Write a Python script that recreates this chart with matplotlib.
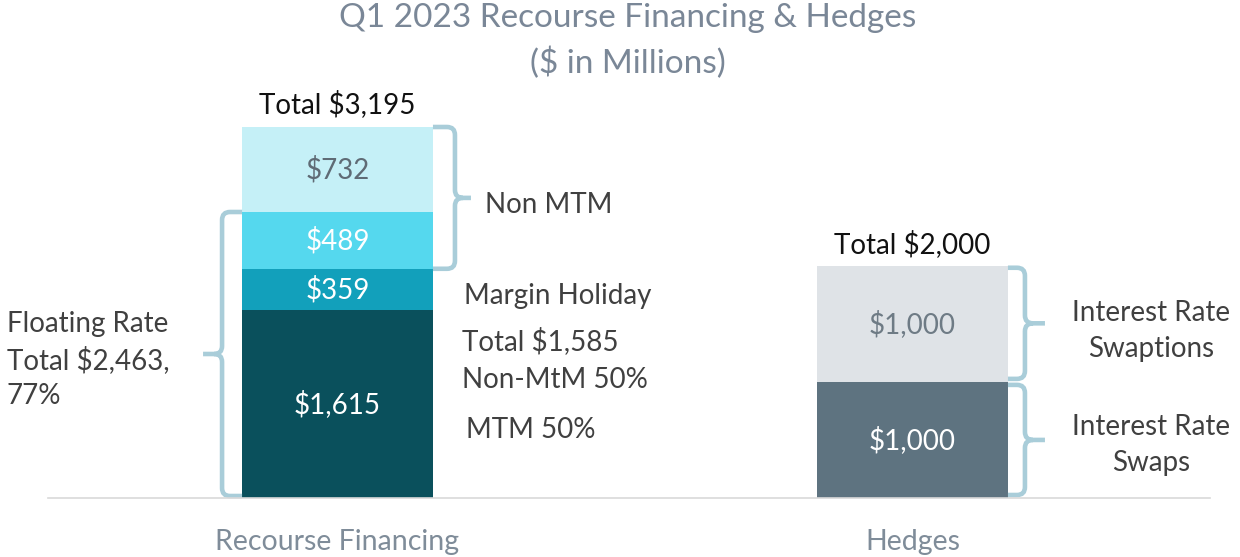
import matplotlib.pyplot as plt
from matplotlib.path import Path
from matplotlib.patches import PathPatch

# data
categories = ["Recourse Financing", "Hedges"]
recourse = [1615, 359, 489, 732]
recourse_colors = ["#0a505c", "#12a0bb", "#55d8ee", "#c5f0f7"]
recourse_text = ["white", "white", "white", "#5f6b75"]
hedges = [1000, 1000]
hedge_colors = ["#5e7380", "#dfe3e7"]
hedge_text = ["white", "#6e7b85"]

plt.rcParams["font.family"] = ["Lato", "DejaVu Sans"]

W, H = 1240, 557
fig = plt.figure(figsize=(W / 100, H / 100), dpi=100)
ax = fig.add_axes([48 / W, 59 / H, (1210 - 48) / W, 371 / H])
total = sum(recourse)
ax.set_xlim(-0.5035, 1.5174)
ax.set_ylim(0, total)
bw = 0.332

# pixel -> data scale
px_x = 1 / 575
px_y = total / 371


def fmt(v):
    return "${:,}".format(v)


def stack(x, vals, colors, tcolors):
    bottom = 0
    for v, c, tc in zip(vals, colors, tcolors):
        ax.bar(x, v, bottom=bottom, width=bw, color=c, linewidth=0)
        ax.text(x, bottom + v / 2, fmt(v), ha="center", va="center",
                color=tc, fontsize=20)
        bottom += v
    return bottom


t1 = stack(0, recourse, recourse_colors, recourse_text)
t2 = stack(1, hedges, hedge_colors, hedge_text)

ax.text(0, t1 + 23 * px_y, "Total " + fmt(t1), ha="center", va="center",
        fontsize=20, color="#111111")
ax.text(1, t2 + 22 * px_y, "Total " + fmt(t2), ha="center", va="center",
        fontsize=20, color="#111111")


def brace(x, y0, y1, side, depth=20, tip=20, r=8, color="#a9cdd9"):
    s = side
    xv = x + s * depth * px_x
    xt = xv + s * tip * px_x
    rx, ry = r * px_x, r * px_y
    ym = (y0 + y1) / 2
    verts = [(x, y1), (xv - s * rx, y1), (xv, y1), (xv, y1 - ry),
             (xv, ym + ry), (xv, ym), (xv + s * rx, ym), (xt, ym),
             (xv + s * rx, ym), (xv, ym), (xv, ym - ry),
             (xv, y0 + ry), (xv, y0), (xv - s * rx, y0), (x, y0)]
    codes = [Path.MOVETO, Path.LINETO, Path.CURVE3, Path.CURVE3,
             Path.LINETO, Path.CURVE3, Path.CURVE3, Path.LINETO,
             Path.MOVETO, Path.CURVE3, Path.CURVE3,
             Path.LINETO, Path.CURVE3, Path.CURVE3, Path.LINETO]
    ax.add_patch(PathPatch(Path(verts, codes), fill=False, edgecolor=color,
                           lw=3.3, capstyle="butt", clip_on=False))


floating = sum(recourse[:3])
brace(-bw / 2, 2 * px_y, floating, -1, depth=20, tip=19)
brace(bw / 2, recourse[0] + recourse[1], total, 1, depth=22, tip=16)
brace(1 + bw / 2, hedges[0] + 3 * px_y, sum(hedges) - 2 * px_y, 1, depth=17, tip=20)
brace(1 + bw / 2, 3 * px_y, hedges[0] - 3 * px_y, 1, depth=17, tip=20)

ax.set_xticks([0, 1])
ax.set_xticklabels(categories, fontsize=20.5, color="#7f8c99")
ax.tick_params(axis="x", length=0, pad=22)
ax.set_yticks([])
for sp in ["top", "left", "right"]:
    ax.spines[sp].set_visible(False)
ax.spines["bottom"].set_color("#d9d9d9")
ax.spines["bottom"].set_linewidth(1.2)


def ftext(px, py, s, **kw):
    kw.setdefault("fontsize", 20)
    kw.setdefault("color", "#404040")
    kw.setdefault("va", "center")
    fig.text(px / W, 1 - py / H, s, **kw)


ftext(628, 18, "Q1 2023 Recourse Financing & Hedges", ha="center", fontsize=24, color="#7a8797")
ftext(628, 63, "($ in Millions)", ha="center", fontsize=24, color="#7a8797")
ftext(485, 205, "Non MTM", ha="left")
ftext(464, 296, "Margin Holiday", ha="left")
ftext(462, 341, "Total $1,585", ha="left")
ftext(462, 380, "Non-MtM 50%", ha="left")
ftext(466, 430, "MTM 50%", ha="left")
ftext(7, 360, "Floating Rate\nTotal $2,463,\n77%", ha="left", linespacing=1.4)
ftext(1151, 331, "Interest Rate\nSwaptions", ha="center", linespacing=1.45)
ftext(1151, 445, "Interest Rate\nSwaps", ha="center", linespacing=1.45)

fig.savefig("out.png", dpi=100)
